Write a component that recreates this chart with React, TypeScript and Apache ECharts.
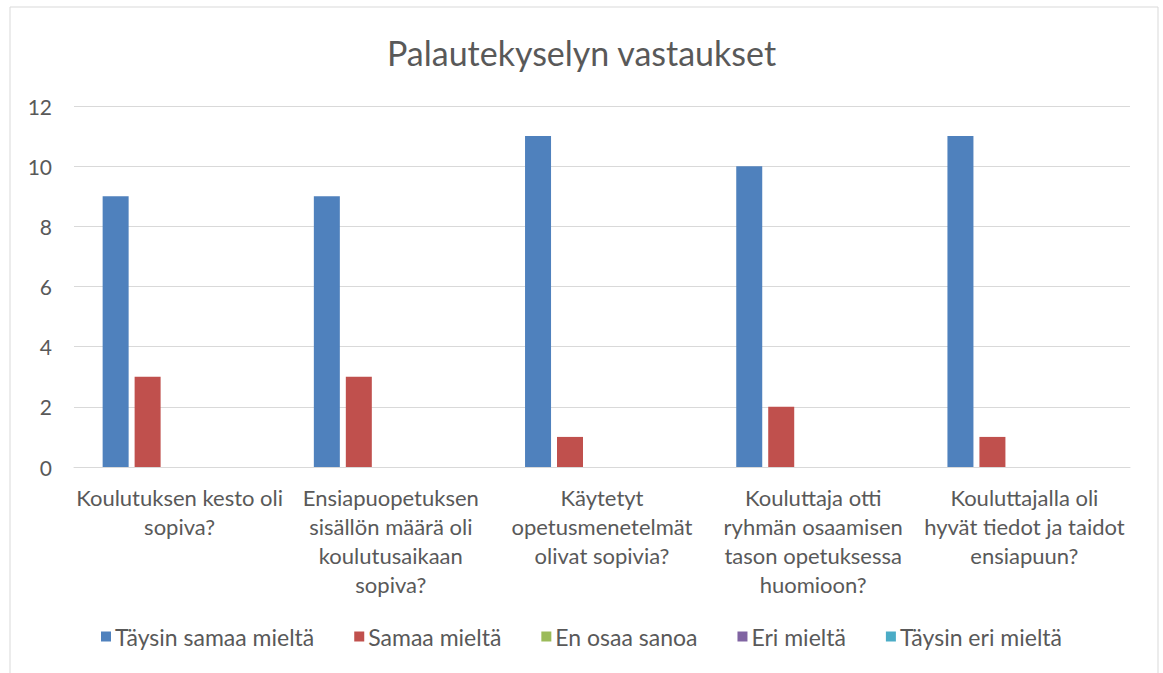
import React, { useEffect, useRef } from "react";
import * as echarts from "echarts";

const categories = [
  "Koulutuksen kesto oli\nsopiva?",
  "Ensiapuopetuksen\nsisällön määrä oli\nkoulutusaikaan\nsopiva?",
  "Käytetyt\nopetusmenetelmät\nolivat sopivia?",
  "Kouluttaja otti\nryhmän osaamisen\ntason opetuksessa\nhuomioon?",
  "Kouluttajalla oli\nhyvät tiedot ja taidot\nensiapuun?",
];
const seriesNames = ["Täysin samaa mieltä", "Samaa mieltä", "En osaa sanoa", "Eri mieltä", "Täysin eri mieltä"];
const taysinSamaa = [9, 9, 11, 10, 11];
const samaa = [3, 3, 1, 2, 1];
const enOsaa = [0, 0, 0, 0, 0];
const eri = [0, 0, 0, 0, 0];
const taysinEri = [0, 0, 0, 0, 0];
const colors = ["#4F81BD", "#C0504D", "#9BBB59", "#8064A2", "#4BACC6"];

const FONT = "Lato, 'Noto Sans', sans-serif";
const TXT = "#595959";

export default function App() {
  const ref = useRef<HTMLDivElement>(null);
  useEffect(() => {
    if (!ref.current) return;
    const chart = echarts.init(ref.current, undefined, { renderer: "svg" });
    const values = [taysinSamaa, samaa, enOsaa, eri, taysinEri];
    chart.setOption({
      animation: false,
      textStyle: { fontFamily: FONT, color: TXT },
      title: {
        text: "Palautekyselyn vastaukset",
        left: "center",
        top: 30,
        textStyle: { fontFamily: FONT, fontSize: 34, fontWeight: "normal", color: TXT },
      },
      graphic: [
        {
          type: "rect",
          shape: { x: 10, y: 7, width: 1148, height: 700 },
          style: { fill: "none", stroke: "#D9D9D9", lineWidth: 1 },
          silent: true,
        },
      ],
      legend: {
        bottom: 20,
        left: "center",
        itemWidth: 10,
        itemHeight: 10,
        itemGap: 40,
        icon: "rect",
        textStyle: { fontFamily: FONT, fontSize: 23, color: TXT, padding: [0, 0, 0, -1] },
        data: seriesNames,
      },
      grid: { left: 74, right: 33, top: 106, bottom: 206 },
      xAxis: {
        type: "category",
        data: categories,
        axisLine: { lineStyle: { color: "#D9D9D9", width: 1 } },
        axisTick: { show: false },
        axisLabel: {
          interval: 0,
          margin: 16,
          fontFamily: FONT,
          fontSize: 22,
          lineHeight: 29,
          color: TXT,
          align: "center",
        },
      },
      yAxis: {
        type: "value",
        min: 0,
        max: 12,
        interval: 2,
        axisLine: { show: false },
        axisTick: { show: false },
        splitLine: { lineStyle: { color: "#D9D9D9", width: 1 } },
        axisLabel: { margin: 22, fontFamily: FONT, fontSize: 21, color: TXT },
      },
      series: seriesNames.map((name, i) => ({
        name,
        type: "bar",
        data: values[i],
        barWidth: 26,
        barGap: "23%",
        itemStyle: { color: colors[i] },
      })),
    });
    return () => chart.dispose();
  }, []);
  return (
    <div
      ref={ref}
      style={{ position: "fixed", left: 0, top: 0, width: 1163, height: 673, background: "#fff" }}
    />
  );
}
